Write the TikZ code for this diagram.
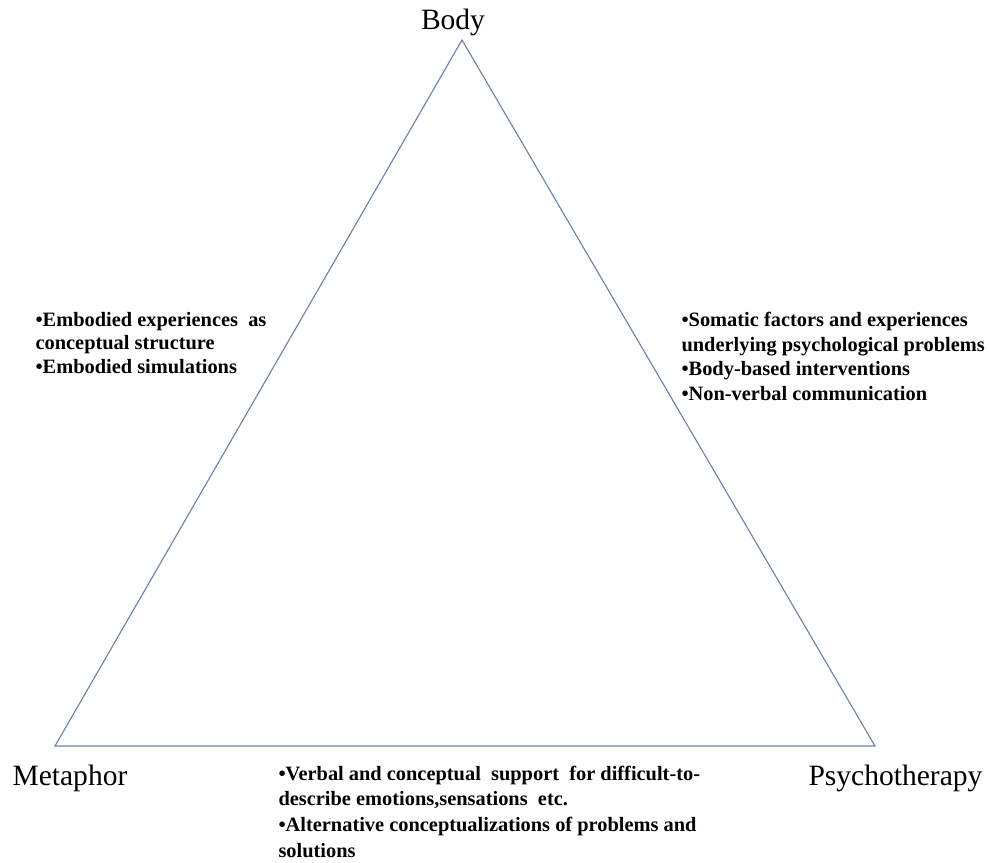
\documentclass[tikz,border=0pt]{standalone}
\usepackage{fontspec}
\setmainfont{Liberation Serif}
\definecolor{EdgeSlate}{HTML}{6B82A6}

\begin{document}
\begin{tikzpicture}[x=0.025cm,y=-0.025cm,draw=EdgeSlate,line width=0.8pt]
  \useasboundingbox (0,0) rectangle (989,863);
  \coordinate (body) at (462,40);
  \coordinate (metaphor) at (55,746);
  \coordinate (psycho) at (875,746);
  \draw (body) -- (metaphor) -- (psycho) -- cycle;

  \node[font=\fontsize{21}{24}\selectfont,anchor=base] (bodylbl) at (453,29) {Body};
  \node[font=\fontsize{21}{24}\selectfont,anchor=base west,inner sep=0pt] (metalbl) at (12,785) {Metaphor};
  \node[font=\fontsize{21}{24}\selectfont,anchor=base west,inner sep=0pt] (psycholbl) at (808,785) {Psychotherapy};

  % base = baseline of the last line
  \node[font=\bfseries\fontsize{14.5}{16.7}\selectfont,align=left,anchor=base west,inner sep=0pt] (leftnote) at (35,373)
    {\textbullet Embodied experiences\ \ as\\conceptual structure\\\textbullet Embodied simulations};
  \node[font=\bfseries\fontsize{14.5}{17.4}\selectfont,align=left,anchor=base west,inner sep=0pt] (rightnote) at (681,400)
    {\textbullet Somatic factors and experiences\\underlying psychological problems\\\textbullet Body-based interventions\\\textbullet Non-verbal communication};
  \node[font=\bfseries\fontsize{14.5}{18.2}\selectfont,align=left,anchor=base west,inner sep=0pt] (bottomnote) at (278,857)
    {\textbullet Verbal and conceptual\ \ support\ \ for difficult-to-\\describe emotions,sensations\ \ etc.\\\textbullet Alternative conceptualizations of problems and\\solutions};
\end{tikzpicture}
\end{document}
